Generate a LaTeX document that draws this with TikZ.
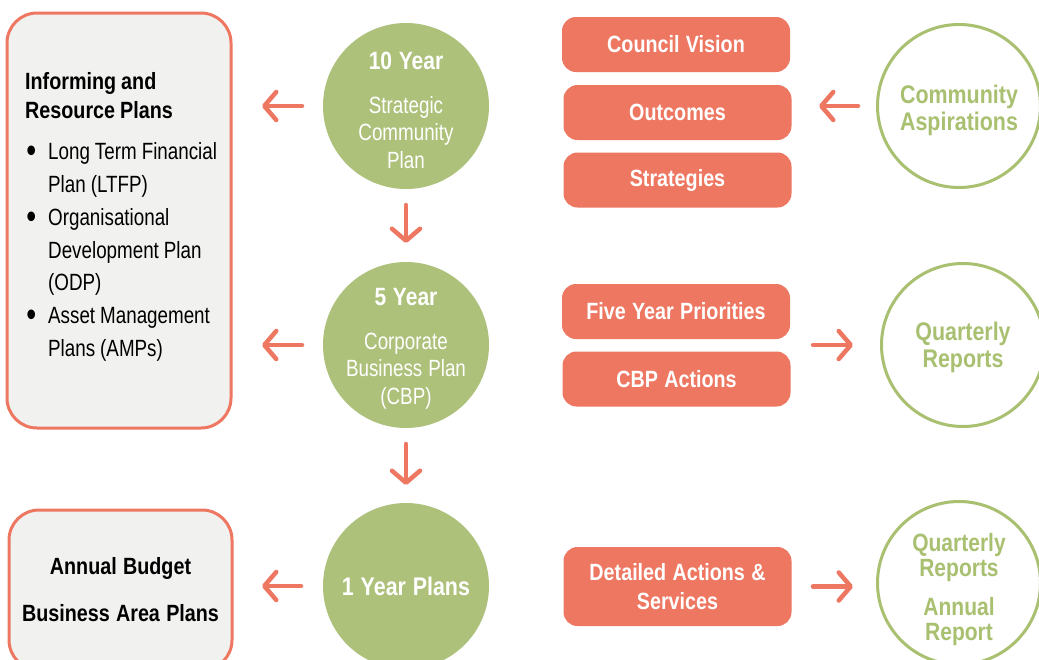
\documentclass[tikz,border=0pt]{standalone}
\usepackage{fontspec}
\setmainfont{Liberation Sans}[UprightFeatures={FakeStretch=0.8}, BoldFeatures={FakeStretch=0.84}, WordSpace=1.15]
\usepackage{enumitem}
\usetikzlibrary{arrows.meta}

\definecolor{salmon}{RGB}{238,119,98}
\definecolor{leaf}{RGB}{173,193,122}
\definecolor{leafline}{RGB}{168,192,112}
\definecolor{paper}{RGB}{241,241,240}

% pushes the text of a circle down a little
\newcommand{\downby}[1]{\rule{0pt}{#1}}

\begin{document}
\begin{tikzpicture}[x=1pt, y=-1pt,
    planbox/.style={draw=salmon, line width=3pt, fill=paper, rounded corners=30pt, outer sep=0pt},
    tagbox/.style={fill=salmon, rounded corners=14pt, minimum width=228pt, minimum height=55pt, text=white, align=center, font=\bfseries\fontsize{23.5}{29}\selectfont, outer sep=0pt},
    plan/.style={circle, fill=leaf, minimum size=166pt, inner sep=0pt, text=white, align=center, font=\fontsize{23.5}{27.5}\selectfont, outer sep=0pt},
    plantext/.style={text=white, align=center, inner sep=0pt, font=\fontsize{23.5}{27.5}\selectfont},
    report/.style={circle, draw=leafline, line width=3pt, fill=white, minimum size=163pt, inner sep=0pt, text=leafline, align=center, font=\bfseries\fontsize{25.5}{27}\selectfont, outer sep=0pt},
    arr/.style={draw=salmon, line width=4.5pt, line cap=round, -{Straight Barb[length=12pt, width=28pt, line cap=round, line join=round]}}
]
    \fill[white] (0,0) rectangle (1039,659);
    \useasboundingbox (0,0) rectangle (1039,659);

    % Left boxes
    \node[planbox, minimum width=224pt, minimum height=415pt] (inform) at (119,220.5) {};
    \node[anchor=north west, text width=205pt, inner sep=0pt] (informtext) at (25,72) {%
        \spaceskip=5pt\relax
        {\bfseries\fontsize{23.5}{29}\selectfont Informing and\\Resource Plans\par}
        \fontsize{23.5}{32.7}\selectfont
        \begin{itemize}[leftmargin=23pt, labelsep=12pt, topsep=9pt, partopsep=0pt, itemsep=0pt, parsep=0pt, label=\raisebox{-3pt}{\scalebox{1.5}{\textbullet}}]
            \item Long Term Financial\\Plan (LTFP)
            \item Organisational\\Development Plan\\(ODP)
            \item Asset Management\\Plans (AMPs)
        \end{itemize}};
    \node[planbox, minimum width=223pt, minimum height=160pt, align=center, font=\bfseries\fontsize{23.5}{29}\selectfont] (budget) at (120.5,590) {Annual Budget\\[18pt]Business Area Plans};

    % Plan circles
    \node[plan] (c10) at (406,106) {};
    \node[plantext] (c10text) at ([yshift=-4pt]c10.center) {\textbf{\fontsize{25}{27.5}\selectfont 10 Year}\\[16.5pt]Strategic\\Community\\Plan};
    \node[plan] (c5) at (406,345) {};
    \node[plantext] (c5text) at ([yshift=-3.5pt]c5.center) {\textbf{\fontsize{25}{27.5}\selectfont 5 Year}\\[16.5pt]Corporate\\Business Plan\\(CBP)};
    \node[plan, font=\bfseries\fontsize{25.5}{27.5}\selectfont] (c1) at (406,586) {1 Year Plans};

    % Salmon tags
    \node[tagbox] (vision) at (676,44.5) {Council Vision};
    \node[tagbox] (outcomes) at (677.5,112.5) {Outcomes};
    \node[tagbox] (strat) at (677.5,180) {Strategies};
    \node[tagbox] (prio) at (676,311.5) {Five Year Priorities};
    \node[tagbox] (cbpact) at (676.5,379) {CBP Actions};
    \node[tagbox, minimum height=79pt] (detail) at (677.5,586.5) {Detailed Actions \&\\Services};

    % Report circles
    \node[report] (aspire) at (959,106) {\downby{28pt}Community\\Aspirations};
    \node[report] (quart) at (963,345) {\downby{24pt}Quarterly\\Reports};
    \node[report, font=\bfseries\fontsize{25}{25}\selectfont] (annual) at (959,583) {\downby{32pt}Quarterly\\Reports\\[14pt]Annual\\Report};

    % Arrows
    \draw[arr, shorten <=21pt, shorten >=31pt] (c10) -- (c10 -| inform.east);
    \draw[arr, shorten <=21pt, shorten >=31pt] (c5) -- (c5 -| inform.east);
    \draw[arr, shorten <=22pt, shorten >=30pt] (c1) -- (c1 -| budget.east);
    \draw[arr, shorten <=16pt, shorten >=19pt] (c10) -- (c5);
    \draw[arr, shorten <=16pt, shorten >=18pt] (c5) -- (c1);
    \draw[arr, shorten <=19.5pt, shorten >=27.5pt] (aspire) -- (aspire -| outcomes.east);
    \draw[arr, shorten <=23pt, shorten >=28.5pt] (quart -| prio.east) -- (quart);
    \draw[arr, shorten <=21.5pt, shorten >=24.5pt] (detail) -- (detail -| annual.west);
\end{tikzpicture}
\end{document}
